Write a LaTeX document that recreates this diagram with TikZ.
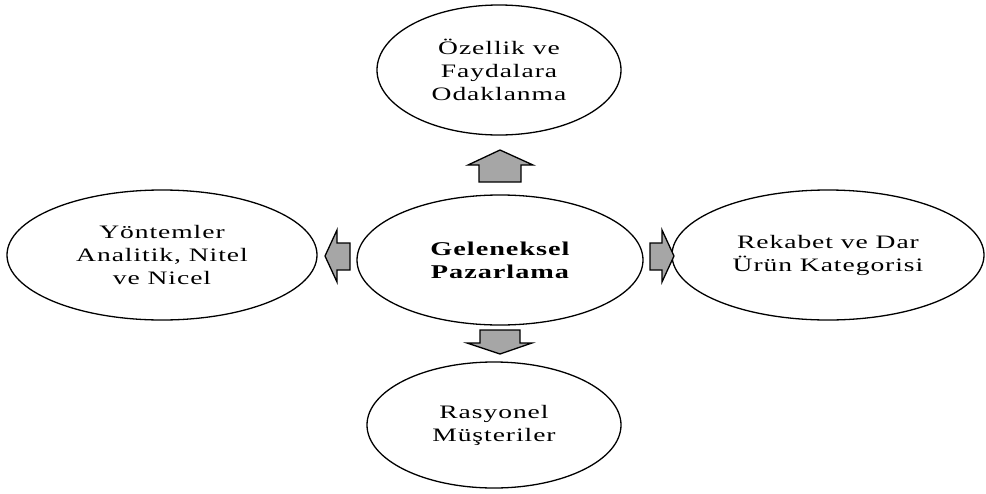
\documentclass[tikz,border=0pt]{standalone}
\usepackage{fontspec}
\setmainfont{Liberation Serif}
\newfontfamily\widefont[FakeStretch=1.45,LetterSpace=5]{Liberation Serif}
\usetikzlibrary{shapes.geometric}
\begin{document}
\begin{tikzpicture}[x=1pt,y=-1pt,
  bubble/.style={ellipse,draw=black,line width=1.3pt,inner sep=0pt,
    align=center,font=\widefont\fontsize{19}{23}\selectfont},
  blockarrow/.style={draw=black,line width=1.3pt,fill=black!35,line join=miter}]
\useasboundingbox (0,0) rectangle (986,493);

% nodes
\node[bubble,minimum width=244pt,minimum height=130pt] (top) at (499,70)
  {Özellik ve\\Faydalara\\Odaklanma};
\node[bubble,minimum width=286pt,minimum height=130pt,
  font=\widefont\bfseries\fontsize{19.5}{23}\selectfont] (mid) at (500,260)
  {Geleneksel\\Pazarlama};
\node[bubble,minimum width=310pt,minimum height=130pt] (left) at (162,255)
  {Yöntemler\\Analitik, Nitel\\ve Nicel};
\node[bubble,minimum width=312pt,minimum height=130pt] (right) at (828,255)
  {Rekabet ve Dar\\Ürün Kategorisi};
\node[bubble,minimum width=254pt,minimum height=126pt] (bot) at (494,425)
  {Rasyonel\\Müşteriler};

% block arrows from the centre outwards
\draw[blockarrow] (479,182) -- (479,165) -- (468,165) -- (500,150)
  -- (533,165) -- (521,165) -- (521,182) -- cycle;
\draw[blockarrow] (480,330) -- (520,330) -- (520,343) -- (532,343)
  -- (500,354) -- (467,343) -- (480,343) -- cycle;
\draw[blockarrow] (350,243) -- (337,243) -- (337,230) -- (325,256)
  -- (337,282) -- (337,270) -- (350,270) -- cycle;
\draw[blockarrow] (650,243) -- (662,243) -- (662,230) -- (674,256)
  -- (662,282) -- (662,270) -- (650,270) -- cycle;
\end{tikzpicture}
\end{document}
